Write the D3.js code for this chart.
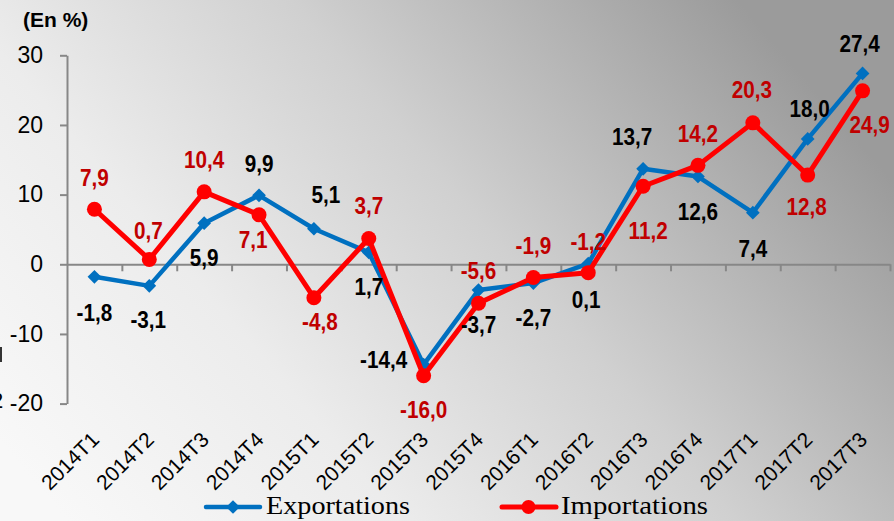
<!DOCTYPE html>
<html lang="fr">
<head>
<meta charset="utf-8">
<title>Exportations / Importations</title>
<script src="https://d3js.org/d3.v7.min.js"></script>
<style>
  html, body { margin: 0; padding: 0; overflow: hidden; }
  svg { display: block; }
</style>
</head>
<body>
<script>
// data (glissement annuel, en %)
var categories = ["2014T1", "2014T2", "2014T3", "2014T4", "2015T1", "2015T2", "2015T3", "2015T4",
                  "2016T1", "2016T2", "2016T3", "2016T4", "2017T1", "2017T2", "2017T3"];
var exportations = [-1.8, -3.1, 5.9, 9.9, 5.1, 1.7, -14.4, -3.7, -2.7, 0.1, 13.7, 12.6, 7.4, 18.0, 27.4];
var importations = [7.9, 0.7, 10.4, 7.1, -4.8, 3.7, -16.0, -5.6, -1.9, -1.2, 11.2, 14.2, 20.3, 12.8, 24.9];
var yTicks = [-20, -10, 0, 10, 20, 30];

// where each value label sits, relative to its point (px)
var expLabelPos = [[0, 36], [-1, 34], [0, 35], [0, -32], [12, -34], [0, 34], [-40, -5], [0, 35],
                   [0, 35], [-2, 36], [-11, -32], [0, 35], [0, 36], [2, -30], [-3, -30]];
var impLabelPos = [[0, -32], [-1, -29], [0, -32], [-6, 25], [6, 24], [0, -33], [0, 34], [0, -33],
                   [0, -32], [0, -31], [5, 44], [0, -32], [-1, -33], [-1, 32], [7, 34]];

var W = 894, H = 521,
    left = 67, right = 890;

var svg = d3.select("body").append("svg")
    .attr("width", W)
    .attr("height", H);

// background gradient (light left -> grey right)
var grad = svg.append("defs").append("linearGradient")
    .attr("id", "bg")
    .attr("x1", 0).attr("y1", 0.85)
    .attr("x2", 1).attr("y2", 0.35);
grad.append("stop").attr("offset", 0).attr("stop-color", "#f8f8f8");
grad.append("stop").attr("offset", 0.3).attr("stop-color", "#ececec");
grad.append("stop").attr("offset", 0.6).attr("stop-color", "#d0d0d0");
grad.append("stop").attr("offset", 1).attr("stop-color", "#9b9b9b");

svg.append("rect")
    .attr("width", W)
    .attr("height", H)
    .attr("fill", "url(#bg)");

var x = d3.scaleBand()
    .domain(categories)
    .range([left, right]);

var xTick = d3.scaleLinear()
    .domain([0, categories.length])
    .range([left, right]);

var y = d3.scaleLinear()
    .domain([-20, 30])
    .range([403.6, 55.3]);

var cx = function(i) { return x(categories[i]) + x.bandwidth() / 2; };
var fmt = function(v) { return d3.format(".1f")(v).replace("\u2212", "-").replace(".", ","); };

// y axis
var yAxis = svg.append("g")
    .attr("transform", "translate(" + left + ",0)")
    .call(d3.axisLeft(y).tickValues(yTicks).tickSize(7).tickSizeOuter(0).tickPadding(17)
        .tickFormat(function(d) { return d; }));
yAxis.select(".domain").attr("stroke", "#878787").attr("stroke-width", 2);
yAxis.selectAll(".tick line").attr("stroke", "#878787").attr("stroke-width", 2);
yAxis.selectAll(".tick text")
    .attr("fill", "#000")
    .attr("font-family", "'Liberation Sans', Arial, sans-serif")
    .attr("font-size", 23);

// x axis along zero line, ticks between categories
var xAxis = svg.append("g")
    .attr("transform", "translate(0," + y(0) + ")")
    .call(d3.axisBottom(xTick).tickValues(d3.range(1, categories.length + 1))
        .tickSize(7).tickSizeOuter(0).tickFormat(""));
xAxis.select(".domain").attr("stroke", "#878787").attr("stroke-width", 2);
xAxis.selectAll(".tick line").attr("stroke", "#878787").attr("stroke-width", 2);

// category labels, rotated
svg.append("g").selectAll("text")
    .data(categories)
    .enter().append("text")
    .attr("transform", function(d, i) { return "translate(" + (cx(i) + 6) + ",441) rotate(-45)"; })
    .attr("text-anchor", "end")
    .attr("font-family", "'Liberation Sans', Arial, sans-serif")
    .attr("font-size", 21)
    .attr("fill", "#000")
    .text(function(d) { return d; });

// title
svg.append("text")
    .attr("x", 23)
    .attr("y", 27)
    .attr("font-family", "'Liberation Sans', Arial, sans-serif")
    .attr("font-weight", "bold")
    .attr("font-size", 21)
    .text("(En %)");

var line = d3.line()
    .x(function(d, i) { return cx(i); })
    .y(function(d) { return y(d); });

var diamond = d3.symbol().type(d3.symbolDiamond2).size(120);

// exportations
svg.append("path")
    .datum(exportations)
    .attr("d", line)
    .attr("fill", "none")
    .attr("stroke", "#0070c0")
    .attr("stroke-width", 4.5)
    .attr("stroke-linejoin", "round");

svg.append("g").selectAll("path")
    .data(exportations)
    .enter().append("path")
    .attr("d", diamond)
    .attr("transform", function(d, i) { return "translate(" + cx(i) + "," + y(d) + ")"; })
    .attr("fill", "#0070c0");

// importations
svg.append("path")
    .datum(importations)
    .attr("d", line)
    .attr("fill", "none")
    .attr("stroke", "#ff0000")
    .attr("stroke-width", 5)
    .attr("stroke-linejoin", "round");

svg.append("g").selectAll("circle")
    .data(importations)
    .enter().append("circle")
    .attr("cx", function(d, i) { return cx(i); })
    .attr("cy", function(d) { return y(d); })
    .attr("r", 7.5)
    .attr("fill", "#ff0000");

// value labels (slightly condensed bold)
function addLabels(values, pos, colour) {
    svg.append("g").selectAll("text")
        .data(values)
        .enter().append("text")
        .attr("transform", function(d, i) {
            return "translate(" + (cx(i) + pos[i][0]) + "," + (y(d) + pos[i][1]) + ") scale(0.9,1)";
        })
        .attr("dy", "0.36em")
        .attr("text-anchor", "middle")
        .attr("font-family", "'Liberation Sans', Arial, sans-serif")
        .attr("font-weight", "bold")
        .attr("font-size", 23)
        .attr("fill", colour)
        .text(fmt);
}
addLabels(exportations, expLabelPos, "#000");
addLabels(importations, impLabelPos, "#c00000");

// legend
var legend = svg.append("g").attr("font-family", "'Liberation Serif', Cambria, serif").attr("font-size", 26);

legend.append("line")
    .attr("x1", 206).attr("x2", 260).attr("y1", 507).attr("y2", 507)
    .attr("stroke", "#0070c0").attr("stroke-width", 4.5).attr("stroke-linecap", "round");
legend.append("path")
    .attr("d", diamond)
    .attr("transform", "translate(233,507)")
    .attr("fill", "#0070c0");
legend.append("text").attr("x", 266).attr("y", 514)
    .attr("textLength", 144).attr("lengthAdjust", "spacingAndGlyphs")
    .text("Exportations");

legend.append("line")
    .attr("x1", 502).attr("x2", 556).attr("y1", 507).attr("y2", 507)
    .attr("stroke", "#ff0000").attr("stroke-width", 5).attr("stroke-linecap", "round");
legend.append("circle")
    .attr("cx", 528.5).attr("cy", 507).attr("r", 7)
    .attr("fill", "#ff0000");
legend.append("text").attr("x", 561).attr("y", 514)
    .attr("textLength", 147).attr("lengthAdjust", "spacingAndGlyphs")
    .text("Importations");

// bits of a neighbouring axis cut off at the left edge
svg.append("text")
    .attr("x", -9).attr("y", 408)
    .attr("font-family", "'Liberation Sans', Arial, sans-serif")
    .attr("font-size", 22)
    .text("2");
svg.append("line")
    .attr("x1", 1).attr("x2", 1).attr("y1", 347).attr("y2", 362)
    .attr("stroke", "#333").attr("stroke-width", 2);
</script>
</body>
</html>
